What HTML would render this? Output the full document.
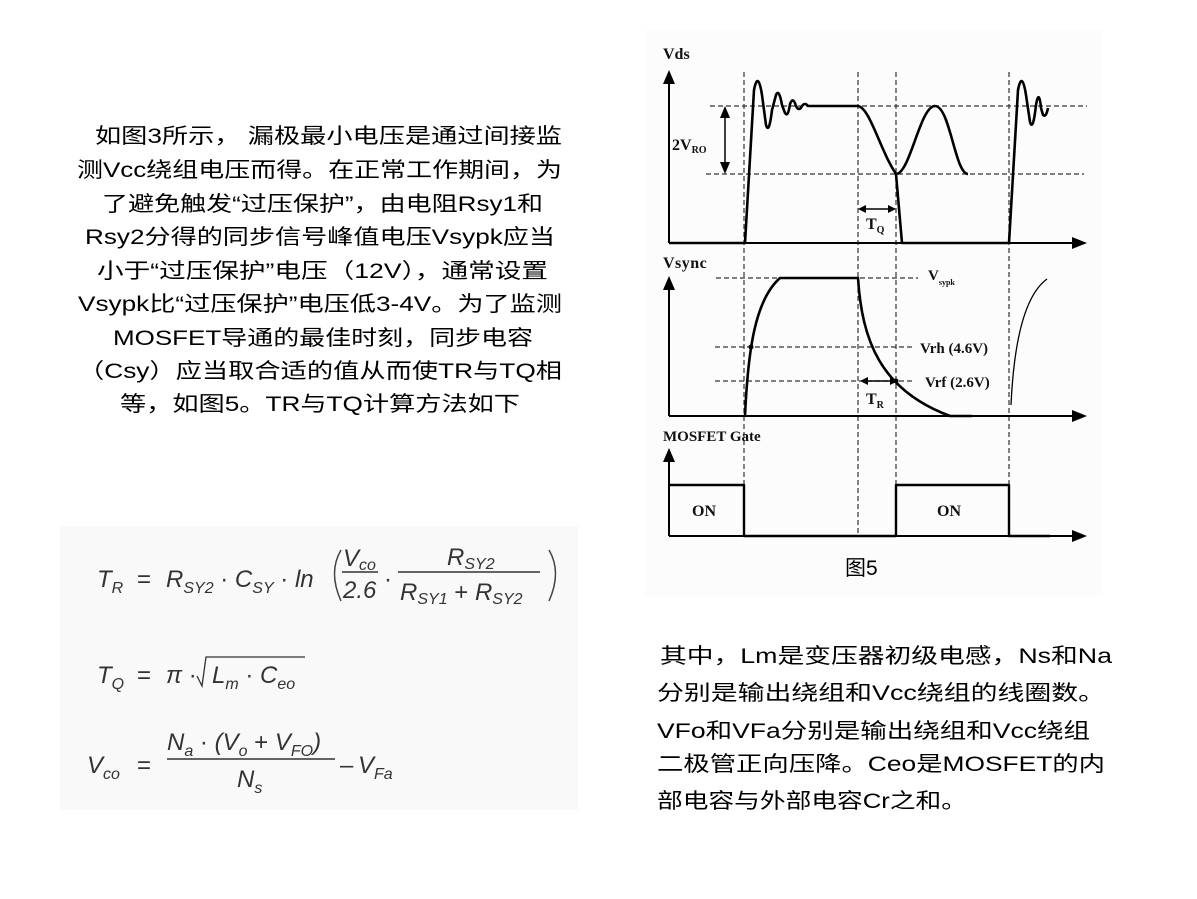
<!DOCTYPE html>
<html><head><meta charset="utf-8"><style>
html,body{margin:0;padding:0;background:#fff;}
svg{display:block}
.cn{font-family:"Liberation Sans","Noto Sans CJK SC",sans-serif;font-size:21px;fill:#000}
.f{font-family:"Liberation Sans",sans-serif;font-style:italic;fill:#333}
.t{font-family:"Liberation Serif",serif;font-weight:bold;fill:#111}
</style></head><body>
<svg width="1197" height="899" viewBox="0 0 1197 899" xmlns="http://www.w3.org/2000/svg">
<rect x="645" y="30" width="458" height="566" fill="#fcfcfc"/>
<rect x="60" y="526" width="518" height="284" fill="#f9f9f9"/>

<g class="cn">
<text x="95" y="143" textLength="467" lengthAdjust="spacingAndGlyphs">如图3所示， 漏极最小电压是通过间接监</text>
<text x="77" y="177" textLength="485" lengthAdjust="spacingAndGlyphs">测Vcc绕组电压而得。在正常工作期间，为</text>
<text x="102" y="211" textLength="441" lengthAdjust="spacingAndGlyphs">了避免触发“过压保护”，由电阻Rsy1和</text>
<text x="85" y="244" textLength="470" lengthAdjust="spacingAndGlyphs">Rsy2分得的同步信号峰值电压Vsypk应当</text>
<text x="97" y="278" textLength="451" lengthAdjust="spacingAndGlyphs">小于“过压保护”电压（12V），通常设置</text>
<text x="78" y="311" textLength="484" lengthAdjust="spacingAndGlyphs">Vsypk比“过压保护”电压低3-4V。为了监测</text>
<text x="113" y="345" textLength="420" lengthAdjust="spacingAndGlyphs">MOSFET导通的最佳时刻，同步电容</text>
<text x="78" y="378" textLength="484" lengthAdjust="spacingAndGlyphs">（Csy）应当取合适的值从而使TR与TQ相</text>
<text x="120" y="411" textLength="400" lengthAdjust="spacingAndGlyphs">等，如图5。TR与TQ计算方法如下</text>
</g>

<g class="cn">
<text x="660" y="663" textLength="452" lengthAdjust="spacingAndGlyphs">其中，Lm是变压器初级电感，Ns和Na</text>
<text x="657" y="700" textLength="448" lengthAdjust="spacingAndGlyphs">分别是输出绕组和Vcc绕组的线圈数。</text>
<text x="657" y="738" textLength="433" lengthAdjust="spacingAndGlyphs">VFo和VFa分别是输出绕组和Vcc绕组</text>
<text x="657" y="771" textLength="448" lengthAdjust="spacingAndGlyphs">二极管正向压降。Ceo是MOSFET的内</text>
<text x="657" y="808" textLength="310" lengthAdjust="spacingAndGlyphs">部电容与外部电容Cr之和。</text>
</g>

<g class="f" font-size="24">
<text x="97" y="587">T<tspan font-size="16" dy="6">R</tspan></text>
<text x="137" y="587" font-style="normal">=</text>
<text x="166" y="587">R<tspan font-size="16" dy="6">SY2</tspan><tspan dy="-6" font-style="normal"> · </tspan>C<tspan font-size="16" dy="6">SY</tspan><tspan dy="-6" font-style="normal"> · </tspan>ln</text>
<path d="M341 550 Q328 572 341 601" fill="none" stroke="#444" stroke-width="1.5"/>
<text x="343" y="566">V<tspan font-size="16" dy="4">co</tspan></text>
<line x1="342" y1="572" x2="378" y2="572" stroke="#333" stroke-width="1.5"/>
<text x="343" y="598">2.6</text>
<text x="384" y="587" font-style="normal">·</text>
<text x="447" y="565">R<tspan font-size="16" dy="4">SY2</tspan></text>
<line x1="398" y1="572" x2="540" y2="572" stroke="#333" stroke-width="1.5"/>
<text x="400" y="600">R<tspan font-size="16" dy="4">SY1</tspan><tspan dy="-4" font-style="normal"> + </tspan>R<tspan font-size="16" dy="4">SY2</tspan></text>
<path d="M549 550 Q562 572 549 601" fill="none" stroke="#444" stroke-width="1.5"/>

<text x="97" y="683">T<tspan font-size="16" dy="6">Q</tspan></text>
<text x="137" y="683" font-style="normal">=</text>
<text x="166" y="683">π<tspan font-style="normal"> · </tspan></text>
<path d="M197 676 L202 686 L206 657 L305 657" fill="none" stroke="#333" stroke-width="1.3"/>
<text x="212" y="683">L<tspan font-size="16" dy="6">m</tspan><tspan dy="-6" font-style="normal"> · </tspan>C<tspan font-size="16" dy="6">eo</tspan></text>

<text x="87" y="773">V<tspan font-size="16" dy="6">co</tspan></text>
<text x="137" y="773" font-style="normal">=</text>
<text x="167" y="750">N<tspan font-size="16" dy="6">a</tspan><tspan dy="-6" font-style="normal"> · </tspan>(V<tspan font-size="16" dy="6">o</tspan><tspan dy="-6" font-style="normal"> + </tspan>V<tspan font-size="16" dy="6">FO</tspan><tspan dy="-6">)</tspan></text>
<line x1="167" y1="759" x2="335" y2="759" stroke="#333" stroke-width="1.5"/>
<text x="237" y="787">N<tspan font-size="16" dy="6">s</tspan></text>
<text x="340" y="773" font-style="normal">–</text>
<text x="358" y="773">V<tspan font-size="16" dy="6">Fa</tspan></text>
</g>

<g stroke="#333" stroke-width="1.2" stroke-dasharray="5,3" fill="none">
<line x1="744" y1="72" x2="744" y2="536"/>
<line x1="858" y1="72" x2="858" y2="536"/>
<line x1="896" y1="72" x2="896" y2="536"/>
<line x1="1009" y1="72" x2="1009" y2="536"/>
<line x1="710" y1="106" x2="1087" y2="106"/>
<line x1="706" y1="174" x2="1084" y2="174"/>
<line x1="716" y1="278" x2="918" y2="278"/>
<line x1="715" y1="347" x2="915" y2="347"/>
<line x1="715" y1="381" x2="915" y2="381"/>
</g>
<g stroke="#000" stroke-width="2" fill="none">
<line x1="669" y1="243" x2="1075" y2="243"/>
<line x1="669" y1="243" x2="669" y2="82"/>
<line x1="669" y1="416" x2="1075" y2="416"/>
<line x1="669" y1="416" x2="669" y2="288"/>
<line x1="669" y1="536" x2="1075" y2="536"/>
<line x1="669" y1="536" x2="669" y2="460"/>
</g>
<g fill="#000">
<path d="M663 84 L669 70 L675 84Z"/>
<path d="M663 290 L669 276 L675 290Z"/>
<path d="M663 462 L669 448 L675 462Z"/>
<path d="M1072 237 L1087 243 L1072 249Z"/>
<path d="M1072 410 L1087 416 L1072 422Z"/>
<path d="M1072 530 L1087 536 L1072 542Z"/>
</g>
<g stroke="#000" stroke-width="2.6" fill="none" stroke-linejoin="round">
<path d="M669 243 L745 243 L754 90 Q758 70 762 95 L766 125 Q769 135 772 110 L776 95 Q779 88 782 105 L785 113 Q788 118 790 104 Q793 96 796 106 Q799 112 802 106 Q805 102 808 106 L858 106 C870 108 880 150 896 174 C910 174 920 106 935 106 C950 106 955 174 968 174"/>
<path d="M896 174 L902 243 L1009 243 L1018 90 Q1022 70 1026 95 L1030 122 Q1033 132 1036 105 Q1039 88 1041 108 L1043 115 Q1046 118 1048 108"/>
<path d="M745 416 C748 350 755 300 780 278 L858 278 C862 340 880 390 950 416 L972 416"/>
<path d="M669 485 L744 485 L744 536 L896 536 L896 485 L1009 485 L1009 536 L1050 536" stroke-width="2.4"/>
</g>
<path d="M1011 405 C1014 340 1025 295 1047 279" stroke="#000" stroke-width="1.3" fill="none"/>
<circle cx="751" cy="347" r="2.5" fill="#000"/>
<circle cx="896" cy="381" r="2.5" fill="#000"/>
<g stroke="#000" stroke-width="1.5">
<line x1="725" y1="110" x2="725" y2="170"/>
<line x1="862" y1="209" x2="892" y2="209"/>
<line x1="862" y1="381" x2="892" y2="381"/>
</g>
<g fill="#000">
<path d="M720 118 L725 106 L730 118Z"/>
<path d="M720 162 L725 174 L730 162Z"/>
<path d="M866 205 L858 209 L866 213Z"/>
<path d="M888 205 L896 209 L888 213Z"/>
<path d="M868 377 L860 381 L868 385Z"/>
<path d="M890 377 L898 381 L890 385Z"/>
</g>
<g class="t">
<text x="663" y="59" font-size="16">Vds</text>
<text x="672" y="150" font-size="16">2V<tspan font-size="10" dy="3">RO</tspan></text>
<text x="866" y="229" font-size="16">T<tspan font-size="10" dy="4">Q</tspan></text>
<text x="663" y="268" font-size="16" letter-spacing="0.5">Vsync</text>
<text x="928" y="280" font-size="15">V<tspan font-size="8" dy="5">sypk</tspan></text>
<text x="920" y="353" font-size="15">Vrh (4.6V)</text>
<text x="925" y="387" font-size="15">Vrf (2.6V)</text>
<text x="866" y="404" font-size="16">T<tspan font-size="10" dy="4">R</tspan></text>
<text x="663" y="441" font-size="15">MOSFET Gate</text>
<text x="692" y="516" font-size="16">ON</text>
<text x="937" y="516" font-size="16">ON</text>
</g>
<text x="845" y="575" class="cn" font-size="19" fill="#222">图5</text>
</svg>
</body></html>
